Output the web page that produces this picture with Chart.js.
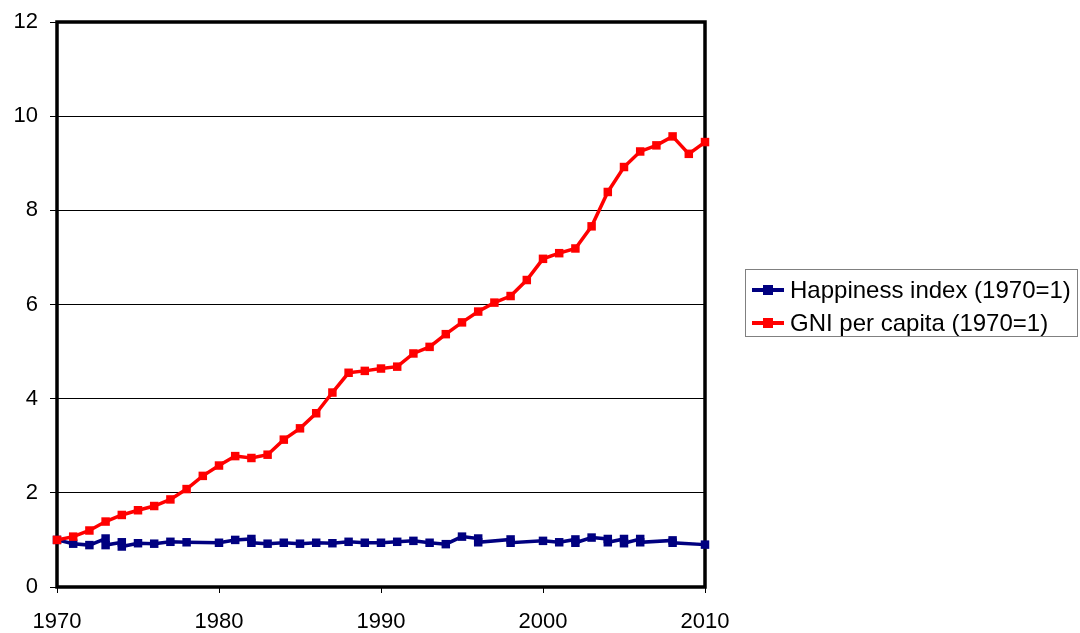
<!DOCTYPE html>
<html>
<head>
<meta charset="utf-8">
<script src="https://cdn.jsdelivr.net/npm/chart.js@4"></script>
<style>
  html, body { margin: 0; padding: 0; background: #fff; }
  #wrap { position: relative; width: 1080px; height: 633px; }
  #legend { position: absolute; left: 745px; top: 269px; width: 333px; height: 68px;
    border: 1px solid #808080; box-sizing: border-box; font-family: "Liberation Sans", Arial, sans-serif;
    font-size: 24px; color: #000; }
  .item { position: absolute; left: 0; height: 30px; line-height: 30px; white-space: nowrap; }
  .sample { position: absolute; left: 6px; top: 13px; width: 32px; height: 4px; }
  .sample span { position: absolute; left: 11px; top: -3px; width: 10px; height: 10px; }
  .label { position: absolute; left: 44px; top: 0; }
</style>
</head>
<body>
<div id="wrap">
  <canvas id="chart" width="1080" height="633"></canvas>
  <div id="legend">
    <div class="item" style="top:5px"><div class="sample" style="background:#000080"><span style="background:#000080"></span></div><div class="label">Happiness index (1970=1)</div></div>
    <div class="item" style="top:38px"><div class="sample" style="background:#ff0000"><span style="background:#ff0000"></span></div><div class="label">GNI per capita (1970=1)</div></div>
  </div>
</div>
<script>
var x_ticks = [1970, 1980, 1990, 2000, 2010];
var y_ticks = [0, 2, 4, 6, 8, 10, 12];

var gni_years = [1970, 1971, 1972, 1973, 1974, 1975, 1976, 1977, 1978, 1979,
  1980, 1981, 1982, 1983, 1984, 1985, 1986, 1987, 1988, 1989,
  1990, 1991, 1992, 1993, 1994, 1995, 1996, 1997, 1998, 1999,
  2000, 2001, 2002, 2003, 2004, 2005, 2006, 2007, 2008, 2009, 2010];
var gni_values = [1.00, 1.07, 1.20, 1.39, 1.53, 1.63, 1.72, 1.86, 2.08, 2.36,
  2.58, 2.78, 2.74, 2.81, 3.13, 3.37, 3.69, 4.13, 4.55, 4.59,
  4.64, 4.68, 4.96, 5.10, 5.37, 5.62, 5.85, 6.04, 6.18, 6.52,
  6.97, 7.09, 7.19, 7.66, 8.39, 8.92, 9.25, 9.38, 9.57, 9.20, 9.45];

// some years have two surveys
var happy_years = [1970, 1971, 1972, 1973, 1973, 1974, 1974, 1975, 1976, 1977, 1978,
  1980, 1981, 1982, 1982, 1983, 1984, 1985, 1986, 1987, 1988, 1989,
  1990, 1991, 1992, 1993, 1994, 1995, 1996, 1996, 1998, 1998,
  2000, 2001, 2002, 2002, 2003, 2004, 2004, 2005, 2005, 2006, 2006, 2008, 2008, 2010];
var happy_values = [1.00, 0.92, 0.89, 1.03, 0.89, 0.95, 0.86, 0.93, 0.92, 0.96, 0.95,
  0.94, 1.00, 1.02, 0.94, 0.92, 0.94, 0.92, 0.94, 0.93, 0.96, 0.94,
  0.94, 0.96, 0.98, 0.94, 0.91, 1.07, 1.03, 0.95, 1.01, 0.94,
  0.98, 0.95, 1.01, 0.94, 1.05, 1.02, 0.95, 1.02, 0.93, 1.02, 0.95, 0.99, 0.94, 0.90];

function toPoints(xs, ys) {
  return xs.map((x, i) => ({ x: x, y: ys[i] }));
}

var frame_box = {
  id: 'frame_box',
  beforeDatasetsDraw(chart) {
    var a = chart.chartArea, ctx = chart.ctx;
    ctx.save();
    ctx.strokeStyle = '#000';
    ctx.lineWidth = 3.5;
    ctx.strokeRect(a.left, a.top, a.right - a.left, a.bottom - a.top);
    ctx.restore();
  }
};

var tick_font = { family: '"Liberation Sans", Arial, sans-serif', size: 22 };

var ctx = document.getElementById('chart').getContext('2d');
var chart = new Chart(ctx, {
  type: 'line',
  data: {
    datasets: [{
      label: 'GNI per capita (1970=1)',
      data: toPoints(gni_years, gni_values),
      borderColor: '#ff0000',
      backgroundColor: '#ff0000',
      borderWidth: 3.5,
      pointStyle: 'rect',
      pointRadius: 6,
      pointBorderWidth: 0,
      tension: 0,
      clip: false
    }, {
      label: 'Happiness index (1970=1)',
      data: toPoints(happy_years, happy_values),
      borderColor: '#000080',
      backgroundColor: '#000080',
      borderWidth: 3.5,
      pointStyle: 'rect',
      pointRadius: 6,
      pointBorderWidth: 0,
      tension: 0,
      clip: false
    }]
  },
  options: {
    responsive: false,
    animation: false,
    layout: { padding: { top: 22, right: 375, left: 0, bottom: 0 } },
    plugins: { legend: { display: false }, tooltip: { enabled: false } },
    scales: {
      x: {
        type: 'linear',
        min: 1970,
        max: 2010,
        afterBuildTicks: (scale) => { scale.ticks = x_ticks.map(v => ({ value: v })); },
        afterFit: (scale) => { scale.height = 46; scale.paddingLeft = 0; scale.paddingRight = 0; },
        ticks: { color: '#000', font: tick_font, padding: 16, maxRotation: 0,
          callback: (v) => String(v) },
        grid: { drawOnChartArea: false, drawTicks: true, tickLength: 6, color: '#000', lineWidth: 1 },
        border: { display: false }
      },
      y: {
        min: 0,
        max: 12,
        afterBuildTicks: (scale) => { scale.ticks = y_ticks.map(v => ({ value: v })); },
        afterFit: (scale) => { scale.width = 57; scale.paddingTop = 0; scale.paddingBottom = 0; },
        ticks: { color: '#000', font: tick_font, padding: 12 },
        grid: { color: '#000', lineWidth: 1, drawTicks: true, tickLength: 7 },
        border: { display: false }
      }
    }
  },
  plugins: [frame_box]
});
</script>
</body>
</html>
